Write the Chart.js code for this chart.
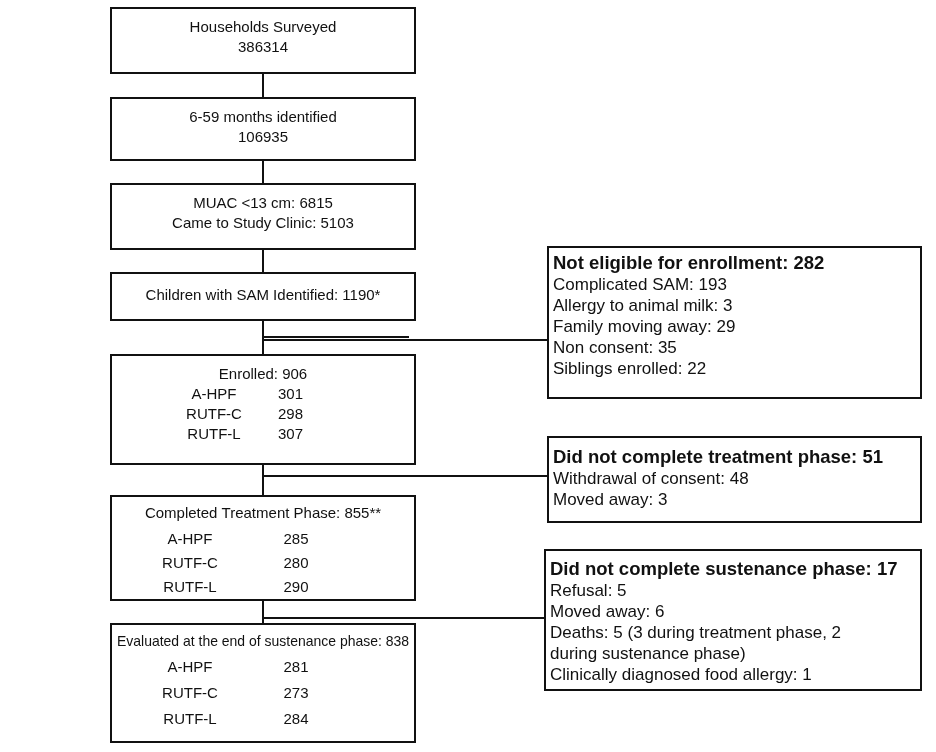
<!DOCTYPE html>
<html>
<head>
<meta charset="utf-8">
<script src="https://cdn.jsdelivr.net/npm/chart.js@4"></script>
<style>
  body { margin: 0; background: #fff; }
  #wrap { width: 936px; height: 752px; }
</style>
</head>
<body>
<div id="wrap"><canvas id="flow" width="936" height="752"></canvas></div>
<script>
// Flow data
const arms = ['A-HPF', 'RUTF-C', 'RUTF-L'];
const enrolledArms = [301, 298, 307];
const completedArms = [285, 280, 290];
const evaluatedArms = [281, 273, 284];

const mainTitles = [
  ['Households Surveyed', '386314'],
  ['6-59 months identified', '106935'],
  ['MUAC <13 cm: 6815', 'Came to Study Clinic: 5103'],
  ['Children with SAM Identified: 1190*'],
  ['Enrolled: 906'],
  ['Completed Treatment Phase: 855**'],
  ['Evaluated at the end of sustenance phase: 838']
];
const armValues = [null, null, null, null, enrolledArms, completedArms, evaluatedArms];

const sideTitles = ['Not eligible for enrollment: 282', 'Did not complete treatment phase: 51', 'Did not complete sustenance phase: 17'];
const sideLines = [
  ['Complicated SAM: 193', 'Allergy to animal milk: 3', 'Family moving away: 29', 'Non consent: 35', 'Siblings enrolled: 22'],
  ['Withdrawal of consent: 48', 'Moved away: 3'],
  ['Refusal: 5', 'Moved away: 6', 'Deaths: 5 (3 during treatment phase, 2', 'during sustenance phase)', 'Clinically diagnosed food allergy: 1']
];

// Layout (pixel units of the 936x752 page)
const mainBoxes = [[111, 8, 415, 73], [111, 98, 415, 160], [111, 184, 415, 249], [111, 273, 415, 320],
                   [111, 355, 415, 464], [111, 496, 415, 600], [111, 624, 415, 742]];
const mainTextY = [[28, 48], [118, 138], [204, 224], [296], [375], [514], [642]];
const armRowsY = [null, null, null, null, [395, 415, 435], [540, 564, 588], [668, 694, 720]];
const sideBoxes = [[548, 247, 921, 398], [548, 437, 921, 522], [545, 550, 921, 690]];
const sideTitleY = [264, 458, 570];
const sideLinkY = [340, 476, 618];
const spineX = 263;

const flowPlugin = {
  id: 'flow',
  afterDraw(chart) {
    const { ctx, scales } = chart;
    const px = v => scales.x.getPixelForValue(v);
    const py = v => scales.y.getPixelForValue(v);
    ctx.save();
    ctx.strokeStyle = '#111';
    ctx.fillStyle = '#111';
    ctx.lineWidth = 2;
    const line = (x1, y1, x2, y2) => {
      ctx.beginPath(); ctx.moveTo(px(x1), py(y1)); ctx.lineTo(px(x2), py(y2)); ctx.stroke();
    };
    const rect = b => ctx.strokeRect(px(b[0]), py(b[1]), px(b[2]) - px(b[0]), py(b[3]) - py(b[1]));

    // spine between main boxes
    for (let i = 0; i < mainBoxes.length - 1; i++) line(spineX, mainBoxes[i][3], spineX, mainBoxes[i + 1][1]);
    // links to side boxes
    sideBoxes.forEach((b, i) => line(spineX, sideLinkY[i], b[0], sideLinkY[i]));
    line(spineX, sideLinkY[0] - 3, 409, sideLinkY[0] - 3);

    ctx.textBaseline = 'middle';
    ctx.font = '15px "Liberation Sans", Arial, sans-serif';
    mainBoxes.forEach((b, i) => {
      rect(b);
      ctx.textAlign = 'center';
      mainTitles[i].forEach((t, j) => ctx.fillText(t, px(spineX), py(mainTextY[i][j]), 292));
      if (armValues[i]) {
        armValues[i].forEach((v, j) => {
          const y = py(armRowsY[i][j]);
          if (i === 4) {
            ctx.textAlign = 'center'; ctx.fillText(arms[j], px(214), y);
            ctx.textAlign = 'left'; ctx.fillText(String(v), px(278), y);
          } else {
            ctx.textAlign = 'center'; ctx.fillText(arms[j], px(190), y);
            ctx.fillText(String(v), px(296), y);
          }
        });
      }
    });

    ctx.textAlign = 'left';
    sideBoxes.forEach((b, i) => {
      rect(b);
      ctx.font = 'bold 18.5px "Liberation Sans", Arial, sans-serif';
      ctx.fillText(sideTitles[i], px(b[0] + 5), py(sideTitleY[i]), 364);
      ctx.font = '17px "Liberation Sans", Arial, sans-serif';
      sideLines[i].forEach((t, j) => ctx.fillText(t, px(b[0] + 5), py(sideTitleY[i] + 21 * (j + 1)), 364));
    });
    ctx.restore();
  }
};

new Chart(document.getElementById('flow'), {
  type: 'scatter',
  data: { datasets: [{ data: [] }] },
  options: {
    responsive: false,
    animation: false,
    layout: { padding: 0 },
    plugins: { legend: { display: false }, tooltip: { enabled: false } },
    scales: {
      x: { type: 'linear', min: 0, max: 936, display: false },
      y: { type: 'linear', min: 0, max: 752, reverse: true, display: false }
    }
  },
  plugins: [flowPlugin]
});
</script>
</body>
</html>
